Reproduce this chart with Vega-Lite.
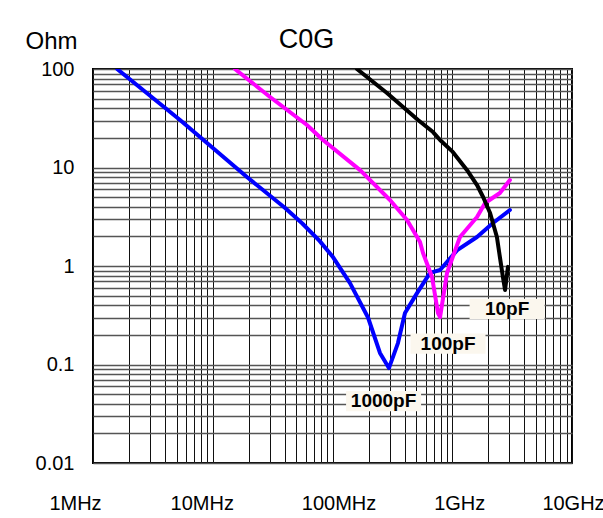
{
  "$schema": "https://vega.github.io/schema/vega-lite/v6.json",
  "autosize": {"type": "none"},
  "padding": {"left": 93, "top": 69, "right": 31, "bottom": 55},
  "width": 479,
  "height": 394,
  "background": "white",
  "config": {
    "font": "Liberation Sans",
    "view": {"stroke": "black", "strokeWidth": 2},
    "axis": {"labelFont": "Liberation Sans", "titleFont": "Liberation Sans"}
  },
  "title": {"text": "C0G", "fontSize": 27, "fontWeight": "normal", "font": "Liberation Sans", "color": "black", "offset": -25, "dx": -26},
  "datasets": {
    "curves": [
      {"series": "1000pF", "f": 1590000, "z": 100},
      {"series": "1000pF", "f": 5330000, "z": 30.4},
      {"series": "1000pF", "f": 19300000, "z": 8.0},
      {"series": "1000pF", "f": 40000000, "z": 3.9},
      {"series": "1000pF", "f": 56000000, "z": 2.7},
      {"series": "1000pF", "f": 78000000, "z": 1.8},
      {"series": "1000pF", "f": 100000000, "z": 1.25},
      {"series": "1000pF", "f": 140000000, "z": 0.67},
      {"series": "1000pF", "f": 198000000, "z": 0.3},
      {"series": "1000pF", "f": 249000000, "z": 0.131},
      {"series": "1000pF", "f": 296000000, "z": 0.092},
      {"series": "1000pF", "f": 352000000, "z": 0.165},
      {"series": "1000pF", "f": 403000000, "z": 0.333},
      {"series": "1000pF", "f": 508000000, "z": 0.53},
      {"series": "1000pF", "f": 652000000, "z": 0.85},
      {"series": "1000pF", "f": 791000000, "z": 0.91},
      {"series": "1000pF", "f": 1100000000, "z": 1.45},
      {"series": "1000pF", "f": 1610000000, "z": 1.97},
      {"series": "1000pF", "f": 2190000000, "z": 2.73},
      {"series": "1000pF", "f": 3030000000, "z": 3.7},
      {"series": "100pF", "f": 15300000, "z": 100},
      {"series": "100pF", "f": 30100000, "z": 52},
      {"series": "100pF", "f": 61200000, "z": 27},
      {"series": "100pF", "f": 83300000, "z": 19},
      {"series": "100pF", "f": 170000000, "z": 9.4},
      {"series": "100pF", "f": 302000000, "z": 4.68},
      {"series": "100pF", "f": 419000000, "z": 2.93},
      {"series": "100pF", "f": 538000000, "z": 1.75},
      {"series": "100pF", "f": 570000000, "z": 1.355},
      {"series": "100pF", "f": 678000000, "z": 0.773},
      {"series": "100pF", "f": 760000000, "z": 0.333},
      {"series": "100pF", "f": 791000000, "z": 0.303},
      {"series": "100pF", "f": 904000000, "z": 0.85},
      {"series": "100pF", "f": 1160000000, "z": 1.97},
      {"series": "100pF", "f": 1610000000, "z": 3.14},
      {"series": "100pF", "f": 1880000000, "z": 4.36},
      {"series": "100pF", "f": 2500000000, "z": 5.51},
      {"series": "100pF", "f": 3030000000, "z": 7.46},
      {"series": "10pF", "f": 160000000, "z": 100},
      {"series": "10pF", "f": 285000000, "z": 57},
      {"series": "10pF", "f": 518000000, "z": 30.4},
      {"series": "10pF", "f": 691000000, "z": 22.9},
      {"series": "10pF", "f": 791000000, "z": 19},
      {"series": "10pF", "f": 1010000000, "z": 14.4},
      {"series": "10pF", "f": 1330000000, "z": 9.4},
      {"series": "10pF", "f": 1610000000, "z": 6.64},
      {"series": "10pF", "f": 1810000000, "z": 5.02},
      {"series": "10pF", "f": 2070000000, "z": 3.45},
      {"series": "10pF", "f": 2360000000, "z": 1.97},
      {"series": "10pF", "f": 2500000000, "z": 1.23},
      {"series": "10pF", "f": 2650000000, "z": 0.77},
      {"series": "10pF", "f": 2760000000, "z": 0.57},
      {"series": "10pF", "f": 2920000000, "z": 0.98}
    ],
    "labels": [
      {"label": "10pF", "f": 2870000000, "z": 0.366},
      {"label": "100pF", "f": 922000000, "z": 0.163},
      {"label": "1000pF", "f": 267000000, "z": 0.0426}
    ]
  },
  "encoding": {
    "x": {
      "field": "f", "type": "quantitative",
      "scale": {"type": "log", "domain": [1000000, 10000000000], "nice": false},
      "axis": {
        "title": null,
        "domain": false,
        "ticks": false,
        "values": [1000000,2000000,3000000,4000000,5000000,6000000,7000000,8000000,9000000,10000000,20000000,30000000,40000000,50000000,60000000,70000000,80000000,90000000,100000000,200000000,300000000,400000000,500000000,600000000,700000000,800000000,900000000,1000000000,2000000000,3000000000,4000000000,5000000000,6000000000,7000000000,8000000000,9000000000,10000000000],
        "labelExpr": "datum.value == 1000000 ? '1MHz' : datum.value == 10000000 ? '10MHz' : datum.value == 100000000 ? '100MHz' : datum.value == 1000000000 ? '1GHz' : datum.value == 10000000000 ? '10GHz' : ''",
        "labelOverlap": false,
        "labelBound": false,
        "labelFlush": false,
        "labelFontSize": 20,
        "labelColor": "black",
        "labelPadding": 30,
        "labelOffset": {"expr": "datum.value == 1000000 ? -18 : datum.value == 10000000 ? -11 : datum.value == 100000000 ? 6 : datum.value == 1000000000 ? 7 : 1"},
        "grid": true,
        "gridColor": "#111111",
        "gridOpacity": 1,
        "gridWidth": 1
      }
    },
    "y": {
      "field": "z", "type": "quantitative",
      "scale": {"type": "log", "domain": [0.01, 100], "nice": false},
      "axis": {
        "title": "Ohm",
        "titleAngle": 0,
        "titleAlign": "left",
        "titleBaseline": "middle",
        "titleX": -68,
        "titleY": -28,
        "titleFontSize": 24,
        "titleFontWeight": "normal",
        "titleColor": "black",
        "domain": false,
        "ticks": false,
        "values": [0.01,0.02,0.03,0.04,0.05,0.06,0.07,0.08,0.09,0.1,0.2,0.3,0.4,0.5,0.6,0.7,0.8,0.9,1,2,3,4,5,6,7,8,9,10,20,30,40,50,60,70,80,90,100],
        "labelExpr": "datum.value == 0.01 ? '0.01' : datum.value == 0.1 ? '0.1' : datum.value == 1 ? '1' : datum.value == 10 ? '10' : datum.value == 100 ? '100' : ''",
        "labelOverlap": false,
        "labelBound": false,
        "labelFlush": false,
        "labelFontSize": 20,
        "labelColor": "black",
        "labelPadding": 19,
        "grid": true,
        "gridColor": "#555555",
        "gridOpacity": 1,
        "gridWidth": 1.5
      }
    }
  },
  "layer": [
    {
      "data": {"name": "curves"},
      "mark": {"type": "line", "strokeWidth": 4, "clip": true, "strokeJoin": "round", "strokeCap": "round"},
      "encoding": {
        "color": {
          "field": "series", "type": "nominal",
          "scale": {"domain": ["1000pF", "100pF", "10pF"], "range": ["#0000ff", "#ff00ff", "#000000"]},
          "legend": null
        }
      }
    },
    {
      "data": {"name": "labels"},
      "mark": {"type": "point", "shape": "M-1,-0.27H1V0.27H-1Z", "filled": true, "fill": "#fbf7ee", "opacity": 1, "strokeWidth": 0, "size": 5625}
    },
    {
      "data": {"name": "labels"},
      "mark": {"type": "text", "fontSize": 19, "fontWeight": "bold", "color": "black", "align": "center", "baseline": "middle"},
      "encoding": {"text": {"field": "label"}}
    }
  ]
}
